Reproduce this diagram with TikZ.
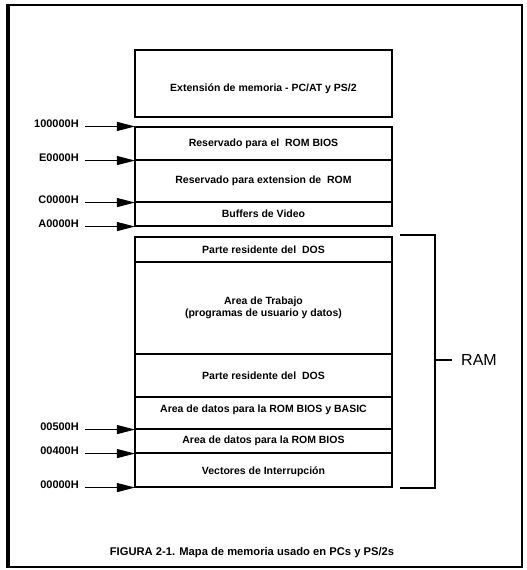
\documentclass[tikz,border=0pt]{standalone}
\usepackage{fontspec}
\setmainfont{Liberation Sans}
\usetikzlibrary{arrows.meta}
\tikzset{
  cell/.style={draw=black, line width=1.1pt, inner sep=0pt, minimum width=257pt},
  lbl/.style={font=\fontsize{10.5}{12}\selectfont\bfseries, inner sep=0pt},
  addr/.style={font=\fontsize{11}{12}\selectfont\bfseries, inner sep=0pt, anchor=east},
  ptr/.style={line width=1pt, -{Triangle[length=18pt,width=9pt]}, shorten >=-0.5pt},
  brk/.style={line width=1.1pt}
}
\begin{document}
\begin{tikzpicture}[x=1pt,y=-1pt]
\useasboundingbox (0,0) rectangle (527,570);
% outer frame
\draw[line width=1.6pt] (8,5) rectangle (522,567);
\draw[line width=4pt] (8,4) -- (8,568);

% upper area: extension and ROM region
\node[cell, minimum height=67pt] (ext) at (263.5,83.5) {};
\node[lbl] (extT) at (263.5,89) {Extensión de memoria - PC/AT y PS/2};

\node[cell, minimum height=33pt] (rom) at (263.5,143.5) {};
\node[lbl] at (rom) {Reservado para el\ \ ROM BIOS};
\node[cell, minimum height=42pt] (romx) at (263.5,181) {};
\node[lbl] at (romx) {Reservado para extension de\ \ ROM};
\node[cell, minimum height=24pt] (vid) at (263.5,214) {};
\node[lbl] at (vid) {Buffers de Video};

% lower area: RAM
\node[cell, minimum height=25pt] (dosa) at (263.5,249.5) {};
\node[lbl] at (dosa) {Parte residente del\ \ DOS};
\node[cell, minimum height=92pt] (work) at (263.5,308) {};
\node[lbl, align=center] at (work) {Area de Trabajo\\(programas de usuario y datos)};
\node[cell, minimum height=43pt] (dosb) at (263.5,375.5) {};
\node[lbl] at (dosb) {Parte residente del\ \ DOS};
\node[cell, minimum height=32pt] (bas) at (263.5,413) {};
\node[lbl] at ([yshift=3pt]bas.center) {Area de datos para la ROM BIOS y BASIC};
\node[cell, minimum height=24pt] (bios) at (263.5,441) {};
\node[lbl] at (bios) {Area de datos para la ROM BIOS};
\node[cell, minimum height=34pt] (vec) at (263.5,470) {};
\node[lbl] at ([yshift=-2pt]vec.center) {Vectores de Interrupción};

% address labels
\node[addr] (a1) at (79,124) {100000H};
\node[addr] (a2) at (79,158) {E0000H};
\node[addr] (a3) at (79,200) {C0000H};
\node[addr] (a4) at (79,224) {A0000H};
\node[addr] (a5) at (79,427) {00500H};
\node[addr] (a6) at (79,451) {00400H};
\node[addr] (a7) at (79,485) {00000H};

\draw[ptr] ([xshift=6pt]a1.east |- rom.north west) -- (rom.north west);
\draw[ptr] ([xshift=6pt]a2.east |- rom.south west) -- (rom.south west);
\draw[ptr] ([xshift=6pt]a3.east |- romx.south west) -- (romx.south west);
\draw[ptr] ([xshift=6pt]a4.east |- vid.south west) -- (vid.south west);
\draw[ptr] ([xshift=6pt]a5.east |- bas.south west) -- (bas.south west);
\draw[ptr] ([xshift=6pt]a6.east |- bios.south west) -- (bios.south west);
\draw[ptr] ([xshift=6pt]a7.east |- vec.south west) -- (vec.south west);

% RAM bracket
\coordinate (bt) at (400,235);
\coordinate (bb) at (400,488);
\coordinate (bm) at (435,360);
\draw[brk] (bt) -| (bm) |- (bb);
\node[font=\fontsize{16}{18}\selectfont, inner sep=0pt, anchor=west] (ram) at (461,360) {RAM};
\draw[brk] (bm) -- ([xshift=-9pt]ram.west);

% caption
\node[font=\fontsize{11.2}{13}\selectfont\bfseries, inner sep=0pt] (cap) at (252,553) {FIGURA 2-1. Mapa de memoria usado en PCs y PS/2s};
\end{tikzpicture}
\end{document}
